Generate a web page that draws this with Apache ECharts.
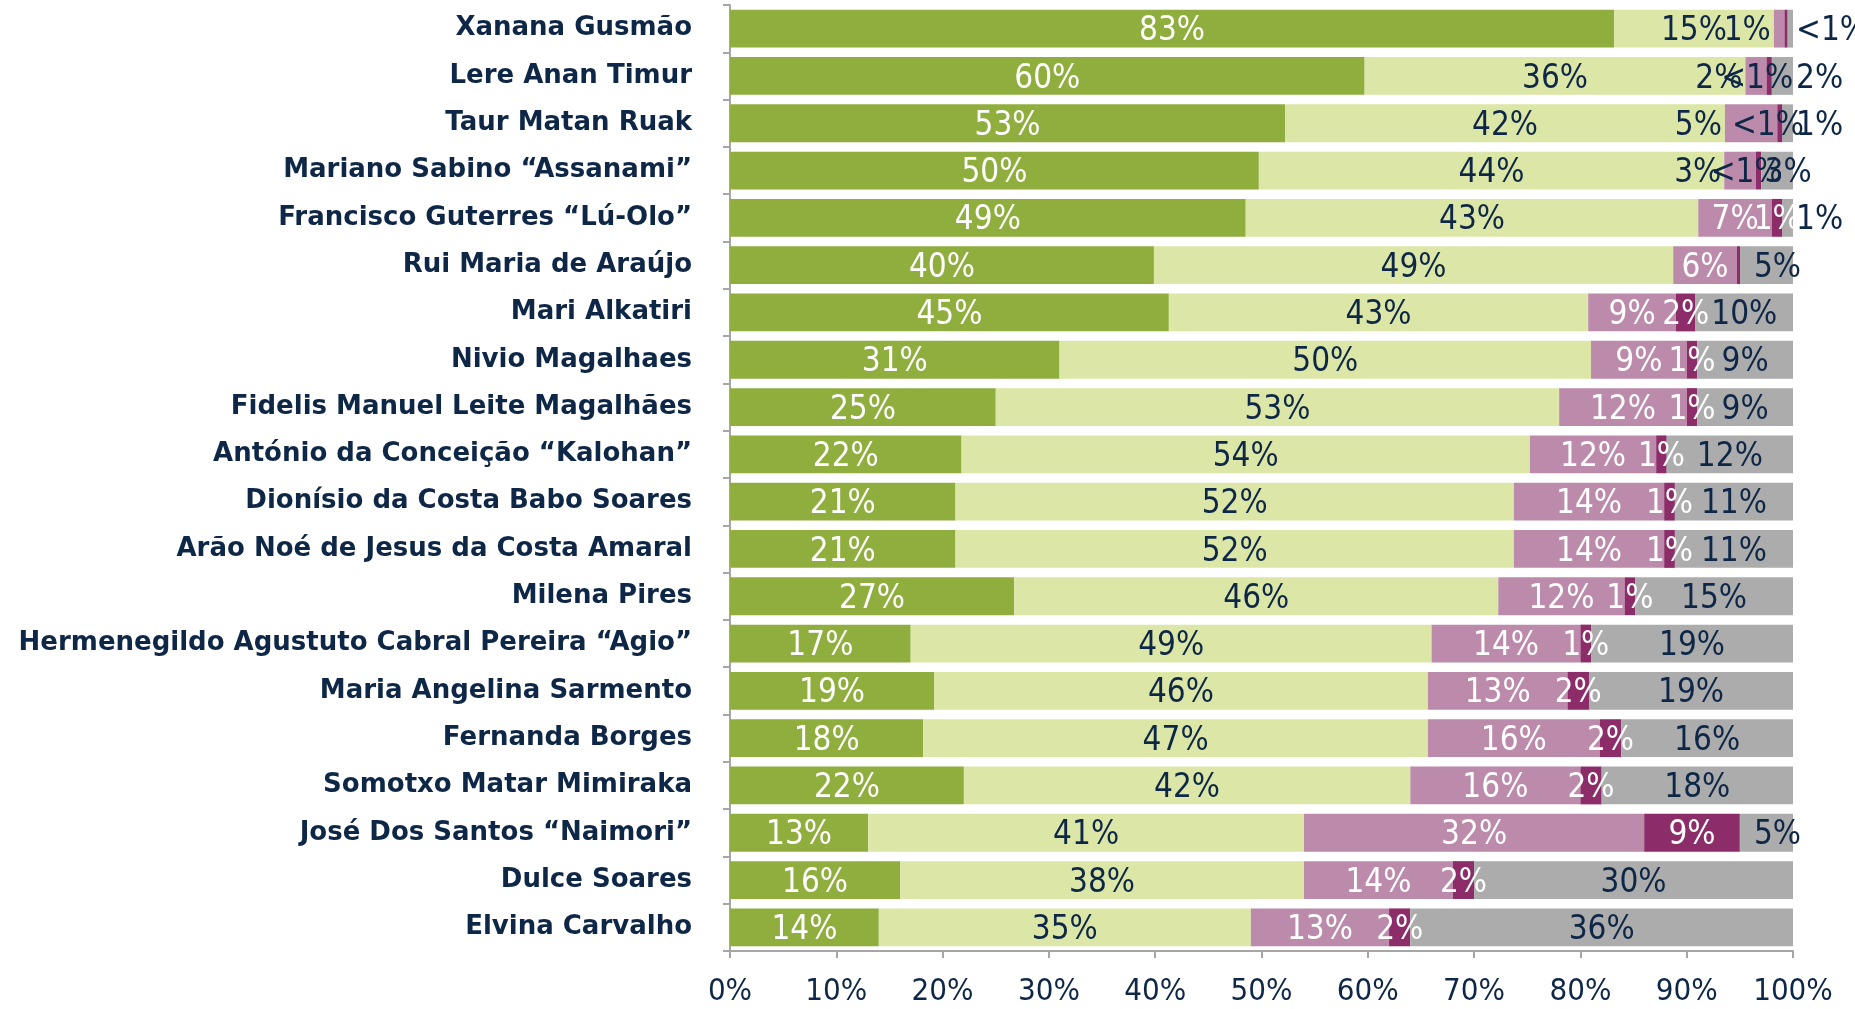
<!DOCTYPE html>
<html>
<head>
<meta charset="utf-8">
<title>Candidates</title>
<script src="https://cdn.jsdelivr.net/npm/echarts@6/dist/echarts.min.js"></script>
<style>
    html, body {margin: 0; padding: 0; background: #fff;}
    #div_chart {width: 1855px; height: 1009px;}
</style>
</head>
<body>
<div id="div_chart"></div>
<script>
// label values as printed on the chart (top to bottom); <1% written as small fractions
var candidates = [
    'Xanana Gusmão', 'Lere Anan Timur', 'Taur Matan Ruak', 'Mariano Sabino “Assanami”',
    'Francisco Guterres “Lú-Olo”', 'Rui Maria de Araújo', 'Mari Alkatiri', 'Nivio Magalhaes',
    'Fidelis Manuel Leite Magalhães', 'António da Conceição “Kalohan”', 'Dionísio da Costa Babo Soares',
    'Arão Noé de Jesus da Costa Amaral', 'Milena Pires', 'Hermenegildo Agustuto Cabral Pereira “Agio”',
    'Maria Angelina Sarmento', 'Fernanda Borges', 'Somotxo Matar Mimiraka', 'José Dos Santos “Naimori”',
    'Dulce Soares', 'Elvina Carvalho'
];
var veryFavorable     = [83, 60, 53, 50, 49, 40, 45, 31, 25, 22, 21, 21, 27, 17, 19, 18, 22, 13, 16, 14];
var somewhatFavorable = [15, 36, 42, 44, 43, 49, 43, 50, 53, 54, 52, 52, 46, 49, 46, 47, 42, 41, 38, 35];
var somewhatUnfav     = [1, 2, 5, 3, 7, 6, 9, 9, 12, 12, 14, 14, 12, 14, 13, 16, 16, 32, 14, 13];
var veryUnfav         = [0.3, 0.5, 0.5, 0.5, 1, 0.3, 2, 1, 1, 1, 1, 1, 1, 1, 2, 2, 2, 9, 2, 2];
var dontKnow          = [0.5, 2, 1, 3, 1, 5, 10, 9, 9, 12, 11, 11, 15, 19, 19, 16, 18, 5, 30, 36];
var xTicks = ['0%', '10%', '20%', '30%', '40%', '50%', '60%', '70%', '80%', '90%', '100%'];

var navy = '#0E2747';
var numFont = "'Liberation Sans Narrow', 'DejaVu Sans Condensed', sans-serif";

initChart();

function initChart() {
    var raw = [veryFavorable, somewhatFavorable, somewhatUnfav, veryUnfav, dontKnow];
    var names = ['Very favorable', 'Somewhat favorable', 'Somewhat unfavorable', 'Very unfavorable', "Don't know"];
    var colors = ['#8FAE3E', '#DCE7A7', '#BC8AAA', '#8C2D6A', '#ACACAC'];

    // 100% stacked: each row is scaled to its own total
    var totals = candidates.map(function (c, i) {
        var s = 0;
        raw.forEach(function (arr) { s += arr[i]; });
        return s;
    });

    var series = raw.map(function (arr, k) {
        var data = arr.map(function (v, i) {
            var color = '#fff';
            var position = 'inside';
            var offset = [0, 3];
            if (k === 1 || k === 4) color = navy;
            if (k === 2 && v < 6) {
                // small pink slices: label pushed to the left, dark text
                color = navy;
                position = 'left';
            }
            if (k === 3 && v < 1) {
                color = navy;
                offset = [-12, 3];
            }
            if (k === 4 && v < 3) position = 'right';
            if (k === 4 && v >= 3 && v < 6) offset = [11, 3];
            return {
                value: v / totals[i] * 100,
                label: {color: color, position: position, offset: offset}
            };
        });
        return {
            name: names[k],
            type: 'bar',
            stack: 'total',
            barWidth: '80%',
            itemStyle: {color: colors[k]},
            label: {
                show: true,
                fontFamily: numFont,
                fontSize: 33,
                distance: 3,
                formatter: function (p) {
                    var r = arr[p.dataIndex];
                    if (r < 0.5) return '';
                    if (r < 1) return '<1%';
                    return r + '%';
                }
            },
            data: data
        };
    });

    var option = {
        animation: false,
        grid: {left: 730, right: 62, top: 5, bottom: 58},
        xAxis: {
            type: 'value',
            min: 0,
            max: 100,
            interval: 10,
            axisLine: {show: true, lineStyle: {color: '#A6A6A6', width: 2}},
            axisTick: {show: true, length: 7, lineStyle: {color: '#A6A6A6', width: 2}},
            splitLine: {show: false},
            axisLabel: {
                color: navy,
                fontFamily: numFont,
                fontSize: 31,
                margin: 25,
                formatter: function (v) { return xTicks[Math.round(v / 10)]; }
            }
        },
        yAxis: {
            type: 'category',
            inverse: true,
            data: candidates,
            axisLine: {show: true, lineStyle: {color: '#A6A6A6', width: 2}},
            axisTick: {show: true, length: 7, lineStyle: {color: '#A6A6A6', width: 2}},
            axisLabel: {
                color: navy,
                fontFamily: 'DejaVu Sans',
                fontWeight: 'bold',
                fontSize: 26,
                margin: 38
            }
        },
        series: series
    };

    var chart = echarts.init(document.getElementById('div_chart'));
    chart.setOption(option);
}
</script>
</body>
</html>
